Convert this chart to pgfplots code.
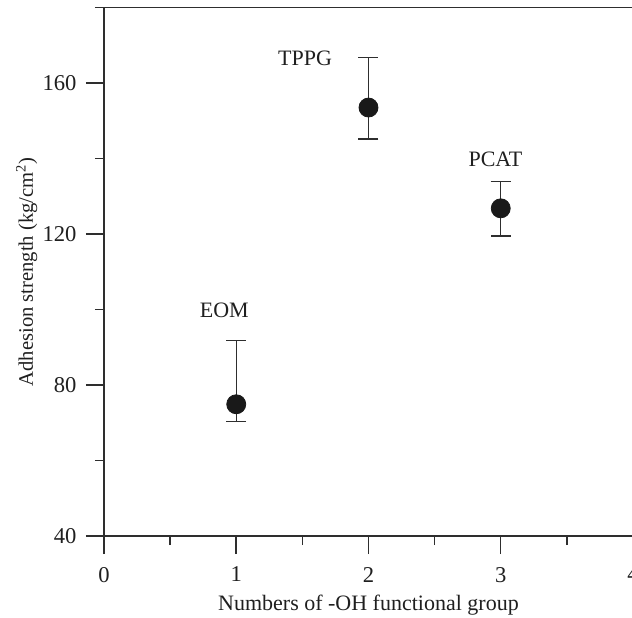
\documentclass[border=0pt]{standalone}
\usepackage{fontspec}
\setmainfont{Liberation Serif}
\usepackage{pgfplots}
\pgfplotsset{compat=1.18}
\usepackage{pgfplotstable}
\pgfplotstableread{
x y ep em
1 74.9 16.8 4.6
2 153.5 13.3 8.3
3 126.8 7.1 7.3
}\datatable
\definecolor{axisgray}{HTML}{2E2E2E}
\begin{document}
\begin{tikzpicture}
\begin{axis}[
  scale only axis,
  width=264.5pt, height=264.25pt,
  xmin=0, xmax=4, ymin=40, ymax=180,
  xtick={0,1,2,3,4},
  minor xtick={0.5,1.5,2.5,3.5},
  ytick={40,80,120,160},
  minor ytick={60,100,140,180},
  xtick pos=bottom, ytick pos=left,
  tick align=outside,
  major tick length=9pt, minor tick length=4.5pt,
  axis line style={axisgray, line width=0.75pt},
  every tick/.style={axisgray, line width=0.75pt},
  /pgf/number format/assume math mode=true,
  tick label style={font=\fontsize{11.3}{13}\selectfont, text=black!88},
  xticklabel style={yshift=-3pt},
  yticklabel style={xshift=-1.2pt},
  xlabel={Numbers of -OH functional group},
  ylabel={Adhesion strength (kg/cm\textsuperscript{2})},
  every axis x label/.style={at={(axis description cs:0.5,0)}, yshift=-37pt, anchor=base, font=\fontsize{11}{13}\selectfont, text=black!88},
  every axis y label/.style={at={(axis description cs:0,0.5)}, xshift=-35.5pt, rotate=90, anchor=base, font=\fontsize{10.3}{12}\selectfont, text=black!88},
  clip=false,
]
\addplot[
  only marks,
  mark=*, mark size=4.75pt,
  mark options={fill=black!90, draw=black!90},
  error bars/.cd,
    y dir=both, y explicit,
    error bar style={axisgray, line width=0.65pt},
    error mark options={axisgray, line width=0.65pt, mark size=5pt, rotate=90},
] table[x=x, y=y, y error plus=ep, y error minus=em] {\datatable};
\node[font=\fontsize{11}{13}\selectfont, text=black!88] at (axis cs:0.91,99.7) {EOM};
\node[font=\fontsize{11}{13}\selectfont, text=black!88] at (axis cs:1.52,166.6) {TPPG};
\node[font=\fontsize{11}{13}\selectfont, text=black!88] at (axis cs:2.96,139.9) {PCAT};
\end{axis}
\pgfresetboundingbox
\path ([shift={(-52pt,-40.5pt)}]current axis.south west) rectangle ([shift={(-0.5pt,3.75pt)}]current axis.north east);
\end{tikzpicture}
\end{document}
